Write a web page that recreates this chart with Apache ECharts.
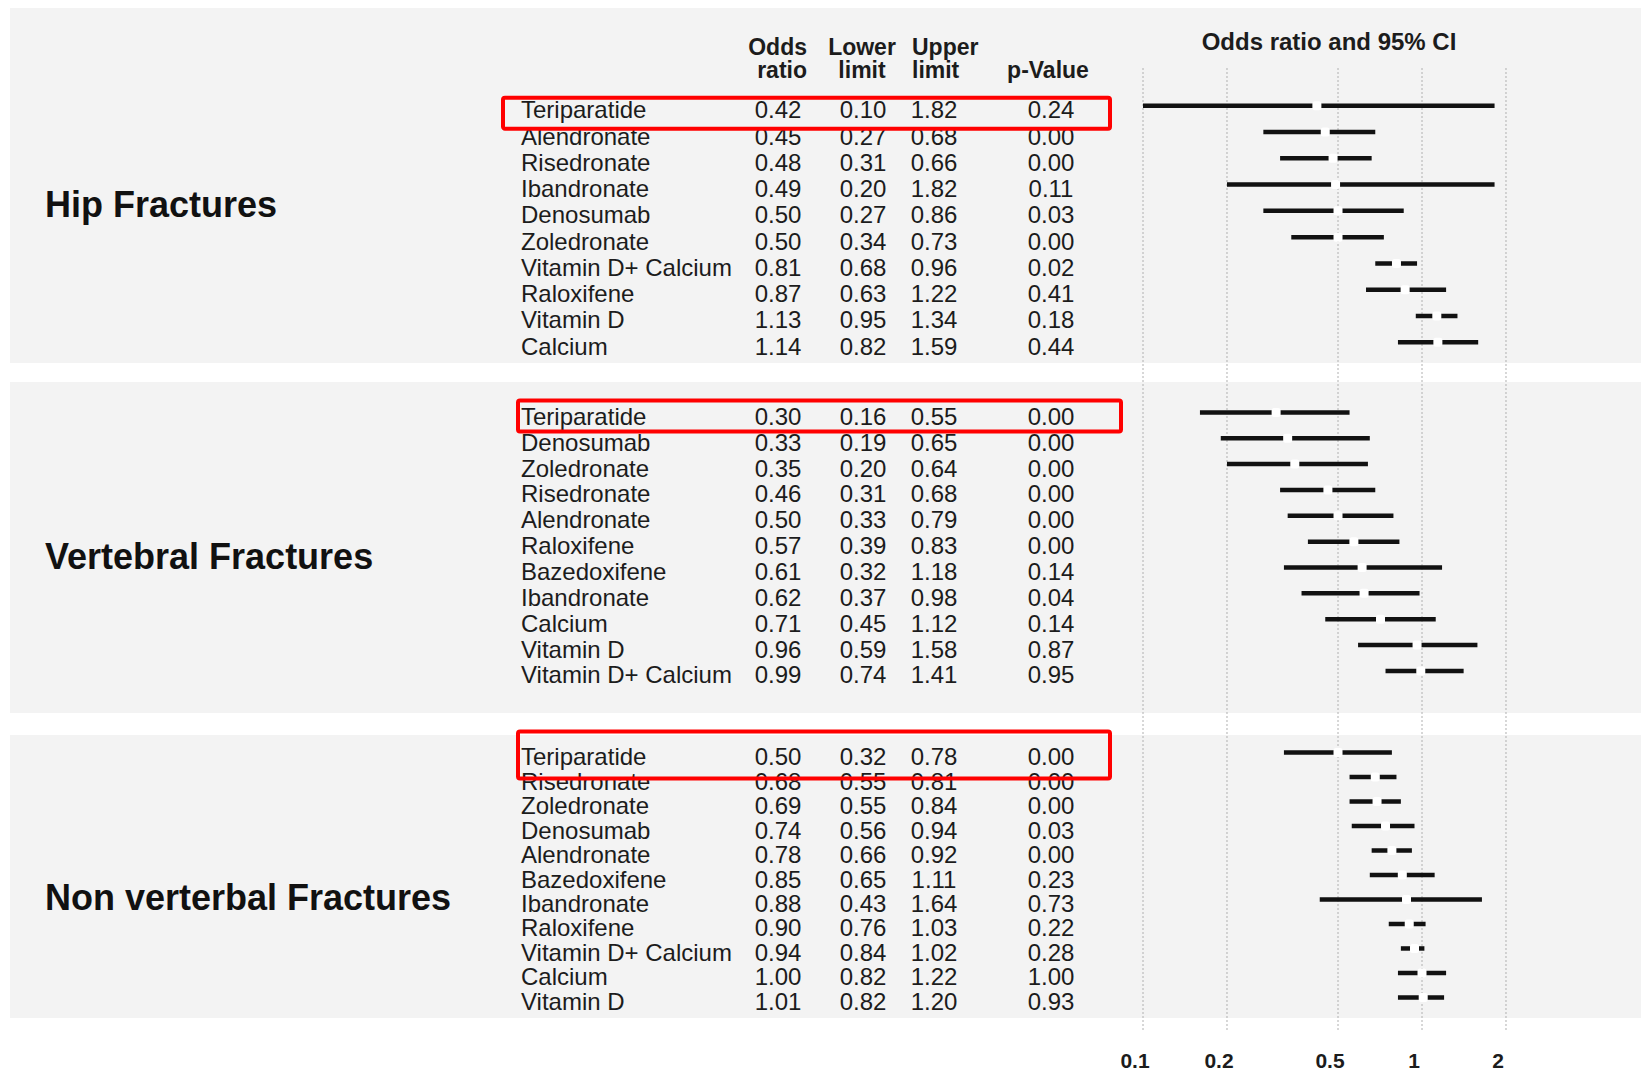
<!DOCTYPE html>
<html>
<head>
<meta charset="utf-8">
<title>Odds ratios for fractures by treatment</title>
<script src="https://cdn.jsdelivr.net/npm/echarts@6/dist/echarts.min.js"></script>
<style>
  html, body { margin: 0; padding: 0; background: #ffffff; }
  #chart { width: 1641px; height: 1071px; }
</style>
</head>
<body>
<div id="chart"></div>
<script>
// ---- Hip fractures ----
const hipNames = ['Teriparatide', 'Alendronate', 'Risedronate', 'Ibandronate', 'Denosumab',
  'Zoledronate', 'Vitamin D+ Calcium', 'Raloxifene', 'Vitamin D', 'Calcium'];
const hipOR    = [0.42, 0.45, 0.48, 0.49, 0.50, 0.50, 0.81, 0.87, 1.13, 1.14];
const hipLower = [0.10, 0.27, 0.31, 0.20, 0.27, 0.34, 0.68, 0.63, 0.95, 0.82];
const hipUpper = [1.82, 0.68, 0.66, 1.82, 0.86, 0.73, 0.96, 1.22, 1.34, 1.59];
const hipP     = [0.24, 0.00, 0.00, 0.11, 0.03, 0.00, 0.02, 0.41, 0.18, 0.44];

// ---- Vertebral fractures ----
const vertNames = ['Teriparatide', 'Denosumab', 'Zoledronate', 'Risedronate', 'Alendronate',
  'Raloxifene', 'Bazedoxifene', 'Ibandronate', 'Calcium', 'Vitamin D', 'Vitamin D+ Calcium'];
const vertOR    = [0.30, 0.33, 0.35, 0.46, 0.50, 0.57, 0.61, 0.62, 0.71, 0.96, 0.99];
const vertLower = [0.16, 0.19, 0.20, 0.31, 0.33, 0.39, 0.32, 0.37, 0.45, 0.59, 0.74];
const vertUpper = [0.55, 0.65, 0.64, 0.68, 0.79, 0.83, 1.18, 0.98, 1.12, 1.58, 1.41];
const vertP     = [0.00, 0.00, 0.00, 0.00, 0.00, 0.00, 0.14, 0.04, 0.14, 0.87, 0.95];

// ---- Non-vertebral fractures ----
const nonvNames = ['Teriparatide', 'Risedronate', 'Zoledronate', 'Denosumab', 'Alendronate',
  'Bazedoxifene', 'Ibandronate', 'Raloxifene', 'Vitamin D+ Calcium', 'Calcium', 'Vitamin D'];
const nonvOR    = [0.50, 0.68, 0.69, 0.74, 0.78, 0.85, 0.88, 0.90, 0.94, 1.00, 1.01];
const nonvLower = [0.32, 0.55, 0.55, 0.56, 0.66, 0.65, 0.43, 0.76, 0.84, 0.82, 0.82];
const nonvUpper = [0.78, 0.81, 0.84, 0.94, 0.92, 1.11, 1.64, 1.03, 1.02, 1.22, 1.20];
const nonvP     = [0.00, 0.00, 0.00, 0.03, 0.00, 0.23, 0.73, 0.22, 0.28, 1.00, 0.93];

// ---- Section titles, column headers, axis ticks ----
const sectionTitles = ['Hip Fractures', 'Vertebral Fractures', 'Non verterbal Fractures'];
const headerOdds  = 'Odds\nratio';
const headerLower = 'Lower\nlimit';
const headerUpper = 'Upper\nlimit';
const headerP     = 'p-Value';
const plotTitle   = 'Odds ratio and 95% CI';
const axisTicks   = [0.1, 0.2, 0.5, 1, 2];

const FONT = '"Liberation Sans", Arial, Helvetica, sans-serif';
const TEXT = '#1c1c1c';
const LOG_MIN = -1, LOG_MAX = 0.5;     // x extent in log10 units (0.1 .. ~3.16)
const PLOT_LEFT = 1143, PLOT_W = 418.5;
const TEXT_DROP = 4;                   // table text sits a little below its bar

const sections = [
  { names: hipNames,  or: hipOR,  lo: hipLower,  hi: hipUpper,  p: hipP,  top: 92.6,  height: 262.8 },
  { names: vertNames, or: vertOR, lo: vertLower, hi: vertUpper, p: vertP, top: 399.5, height: 284.3 },
  { names: nonvNames, or: nonvOR, lo: nonvLower, hi: nonvUpper, p: nonvP, top: 740.3, height: 269.4 }
];

const fmt = v => v.toFixed(2);
const grids = [], xAxes = [], yAxes = [], series = [];
const barAxisIndex = [];

// table columns: label distance from the plot's left edge, and alignment
const columns = [
  { key: 'names', margin: PLOT_LEFT - 521, align: 'left' },
  { key: 'or',    margin: PLOT_LEFT - 778, align: 'center' },
  { key: 'lo',    margin: PLOT_LEFT - 863, align: 'center' },
  { key: 'hi',    margin: PLOT_LEFT - 934, align: 'center' },
  { key: 'p',     margin: PLOT_LEFT - 1051, align: 'center' }
];

sections.forEach(s => {
  // grid for the interval bars
  const gBar = grids.length;
  grids.push({ left: PLOT_LEFT, width: PLOT_W, top: s.top, height: s.height });
  xAxes.push({ type: 'value', gridIndex: gBar, min: LOG_MIN, max: LOG_MAX, show: false });
  const yBar = yAxes.length;
  barAxisIndex.push(yBar);
  yAxes.push({ type: 'category', gridIndex: gBar, inverse: true, data: s.names, show: false });

  // grid carrying the table columns
  const gText = grids.length;
  grids.push({ left: PLOT_LEFT, width: PLOT_W, top: s.top + TEXT_DROP, height: s.height });
  xAxes.push({ type: 'value', gridIndex: gText, min: LOG_MIN, max: LOG_MAX, show: false });
  columns.forEach(c => {
    const values = c.key === 'names' ? s.names : s[c.key].map(fmt);
    yAxes.push({
      type: 'category', gridIndex: gText, inverse: true, position: 'left', offset: 0,
      data: values,
      axisLine: { show: false }, axisTick: { show: false }, splitLine: { show: false },
      axisLabel: {
        interval: 0, margin: c.margin, align: c.align,
        fontFamily: FONT, fontSize: 24, color: TEXT
      }
    });
  });

  series.push({
    type: 'custom', xAxisIndex: gBar, yAxisIndex: yBar, z: 5, clip: false,
    data: s.or.map((v, i) => [Math.log10(s.lo[i]), Math.log10(s.hi[i]), Math.log10(v), i]),
    encode: { x: [0, 1, 2], y: 3 },
    renderItem: (params, api) => {
      const row = api.value(3);
      const a = api.coord([api.value(0), row]);
      const b = api.coord([api.value(1), row]);
      const m = api.coord([api.value(2), row]);
      return {
        type: 'group',
        children: [
          { type: 'line', shape: { x1: a[0], y1: a[1], x2: b[0], y2: b[1] },
            style: { stroke: '#111111', lineWidth: 4.5 } },
          { type: 'rect', shape: { x: m[0] - 4.5, y: m[1] - 4.5, width: 9, height: 9, r: 2.5 },
            style: { fill: '#ffffff' } }
        ]
      };
    }
  });
});

// full-height reference grid carrying the dotted lines and the tick labels
const refGrid = grids.length;
grids.push({ left: PLOT_LEFT, width: PLOT_W, top: 67, height: 963 });
xAxes.push({
  type: 'value', gridIndex: refGrid, min: LOG_MIN, max: LOG_MAX,
  axisLine: { show: false }, axisTick: { show: false }, splitLine: { show: false },
  axisLabel: {
    customValues: axisTicks.map(v => Math.log10(v)),
    formatter: v => String(Number(Math.pow(10, v).toPrecision(2))),
    margin: 20, padding: [0, 16, 0, 0],
    fontFamily: FONT, fontSize: 21, fontWeight: 'bold', color: TEXT
  }
});
const refY = yAxes.length;
yAxes.push({ type: 'value', gridIndex: refGrid, min: 0, max: 1, show: false });
series.push({
  type: 'custom', xAxisIndex: refGrid, yAxisIndex: refY, z: 1, clip: false, silent: true,
  data: axisTicks.map(v => [Math.log10(v)]),
  encode: { x: 0 },
  renderItem: (params, api) => {
    const x = api.value(0);
    const p0 = api.coord([x, 0]);
    const p1 = api.coord([x, 1]);
    return { type: 'line', shape: { x1: p0[0], y1: p0[1], x2: p1[0], y2: p1[1] },
      style: { stroke: '#b0b0b0', lineWidth: 1, lineDash: [2, 2] } };
  }
});

const chart = echarts.init(document.getElementById('chart'), null, { renderer: 'svg' });
chart.setOption({
  backgroundColor: '#ffffff',
  animation: false,
  grid: grids, xAxis: xAxes, yAxis: yAxes, series: series
});

// panels behind each section
const panels = [[8, 363], [382, 713], [735, 1018]].map(([y0, y1]) => ({
  type: 'rect', z: -5, silent: true,
  shape: { x: 10, y: y0, width: 1641 - 10, height: y1 - y0 },
  style: { fill: '#f3f3f3' }
}));

const titleY = [204, 556, 897];
const titles = sectionTitles.map((t, i) => ({
  type: 'text', z: 10, silent: true,
  style: { text: t, x: 45, y: titleY[i], textVerticalAlign: 'middle', textAlign: 'left',
    font: 'bold 36px ' + FONT, fill: '#111111' }
}));

const headerStyle = { font: 'bold 23px ' + FONT, fill: TEXT, lineHeight: 23, textVerticalAlign: 'top' };
const headers = [
  { text: headerOdds, x: 807, y: 35.5, textAlign: 'right' },
  { text: headerLower, x: 862, y: 35.5, textAlign: 'center' },
  { text: headerUpper, x: 912, y: 35.5, textAlign: 'left' },
  { text: headerP, x: 1048, y: 58.5, textAlign: 'center' },
  { text: plotTitle, x: 1329, y: 30, textAlign: 'center', font: 'bold 24px ' + FONT }
].map(h => ({ type: 'text', z: 10, silent: true, style: Object.assign({}, headerStyle, h) }));

// outline the Teriparatide row of every section
const boxSpec = [
  { x0: 503, x1: 1110, up: 8, down: 23 },
  { x0: 518, x1: 1121, up: 12, down: 19 },
  { x0: 518, x1: 1110, up: 21, down: 26 }
];
const boxes = sections.map((s, g) => {
  const cy = chart.convertToPixel({ yAxisIndex: barAxisIndex[g] }, s.names.indexOf('Teriparatide'));
  const b = boxSpec[g];
  return {
    type: 'rect', z: 20, silent: true,
    shape: { x: b.x0, y: cy - b.up, width: b.x1 - b.x0, height: b.up + b.down, r: 2 },
    style: { fill: 'none', stroke: '#ff0000', lineWidth: 4 }
  };
});

chart.setOption({ graphic: { elements: panels.concat(titles, headers, boxes) } });
</script>
</body>
</html>
